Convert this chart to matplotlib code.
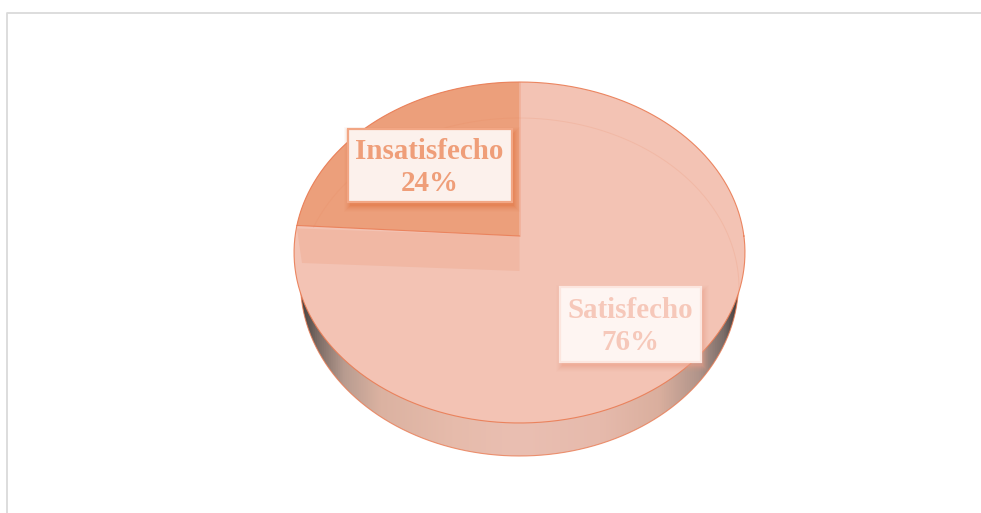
import numpy as np
import matplotlib
matplotlib.use("Agg")
import matplotlib.pyplot as plt
from matplotlib.colors import LinearSegmentedColormap
from matplotlib.patches import Polygon, Rectangle

LABELS = ["Insatisfecho", "Satisfecho"]
VALUES = [24, 76]

SLICE_COLORS = ["#EC9F7B", "#F3C3B4"]
TEXT_COLORS = ["#EF9E79", "#F6C8BA"]
BOX_COLORS = ["#FCF1EC", "#FEF5F2"]
BOX_EDGES = ["#F2A684", "#FCE6DF"]
SHADOW_COLORS = ["#E5733F", "#EE9F88"]
EDGE = "#EA7C54"

# pie geometry in picture pixels
CX, APEX_Y = 519.5, 236.0
A, B, K = 224.4, 168.9, 0.0967


def project(theta):
    """Tilted circle -> picture, so the centre sits above the ellipse middle"""
    u, v = np.cos(theta), np.sin(theta)
    return CX + A * u / (1 + K * v), APEX_Y - B * v / (1 + K * v)


fig = plt.figure(figsize=(9.81, 5.13), dpi=100)
ax = fig.add_axes([0, 0, 1, 1])
ax.set_xlim(0, 981)
ax.set_ylim(513, 0)
ax.axis("off")

# outer frame
ax.plot([6.5, 6.5, 981], [513, 12.5, 12.5], color="#DADADA", lw=1.3, zorder=1)

t = np.linspace(0, 2 * np.pi, 720)
ex, ey = project(t)
# the bottom of the disc is a bit narrower than the top
bx, by = CX + 219 * np.cos(t), 283 + 173 * np.sin(t)

# side of the disc with shading
side_cmap = LinearSegmentedColormap.from_list("side", [
    (0.0, "#3F3A3A"), (0.02, "#4D4745"), (0.05, "#7A6A64"), (0.11, "#B89C90"),
    (0.19, "#DBB2A1"), (0.35, "#E6BBAB"), (0.50, "#EABFB2"), (0.68, "#E6BAAC"),
    (0.81, "#DAAF9E"), (0.90, "#B0948A"), (0.955, "#7A6C68"), (0.985, "#3F3A3A"),
    (1.0, "#3F3A3A"),
])
side_poly = Polygon(np.column_stack([bx, by]), closed=True,
                    transform=ax.transData, facecolor="none", edgecolor="none")
ax.add_patch(side_poly)
im = ax.imshow(np.linspace(0, 1, 512)[None, :], cmap=side_cmap, aspect="auto",
               extent=[ex.min(), ex.max(), 513, 0], zorder=2)
im.set_clip_path(side_poly)
ax.set_xlim(0, 981)
ax.set_ylim(513, 0)
ax.plot(bx, by, color=EDGE, lw=0.8, alpha=0.8, zorder=3)

# top of the pie, slices start at 12 o'clock going counter clockwise
ax.fill(ex, ey, color=SLICE_COLORS[1], lw=0, zorder=4)
start = np.pi / 2
end = start + 2 * np.pi * VALUES[0] / sum(VALUES)
wt = np.linspace(start, end, 120)
wx, wy = project(wt)
ax.fill(np.r_[CX, wx], np.r_[APEX_Y, wy], color=SLICE_COLORS[0], lw=0, zorder=5)

# lighter band under the first slice
band = Polygon([(wx[-1], wy[-1] + 3), (CX, APEX_Y), (CX, APEX_Y + 35), (302, 263)],
               closed=True, facecolor="#F1B8A4", edgecolor="none", zorder=4.5)
ax.add_patch(band)

# faint bevel arc
bt = np.linspace(np.radians(-3), np.radians(159), 300)
ax.plot(519 + 220 * np.cos(bt), 288 - 170 * np.sin(bt), color="#E8835A", lw=0.7, alpha=0.16, zorder=6)

ax.plot([wx[-1], CX], [wy[-1], APEX_Y], color=EDGE, lw=0.8, alpha=0.85, zorder=6)
ax.plot([CX, CX], [APEX_Y, wy[0]], color=EDGE, lw=0.6, alpha=0.25, zorder=6)
ax.plot(ex, ey, color=EDGE, lw=0.8, alpha=0.9, zorder=7)

# data labels
BOXES = [(348, 129, 164, 73), (560, 287, 141, 75)]
CENTERS = [(429.5, 167.5), (630, 326.5)]
for i, (label, value) in enumerate(zip(LABELS, VALUES)):
    x, y, w, h = BOXES[i]
    # soft shadow
    for grow, alpha in zip([6, 5, 4, 3, 2, 1, 0], [0.04, 0.05, 0.07, 0.09, 0.12, 0.16, 0.22]):
        ax.add_patch(Rectangle((x + 2 - grow, y + 4 - grow), w + 2 * grow, h + 2 * grow,
                               facecolor=SHADOW_COLORS[i], edgecolor="none", alpha=alpha, zorder=8))
    ax.add_patch(Rectangle((x - 0.5, y - 0.5), w + 0.5, h + 0.5, facecolor=BOX_COLORS[i],
                           edgecolor=BOX_EDGES[i], lw=1.6, zorder=9))
    ax.text(CENTERS[i][0], CENTERS[i][1], f"{label}\n{value}%", ha="center", va="center",
            family="Liberation Serif", fontweight="bold", fontsize=20.9, linespacing=1.24,
            color=TEXT_COLORS[i], zorder=10)

fig.savefig("out.png", dpi=100, facecolor="white")
